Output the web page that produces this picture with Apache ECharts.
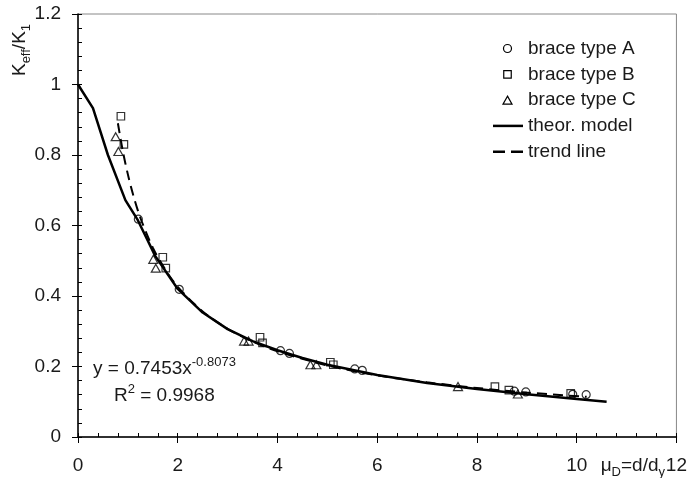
<!DOCTYPE html>
<html>
<head>
<meta charset="utf-8">
<script src="https://cdn.jsdelivr.net/npm/echarts@6/dist/echarts.min.js"></script>
<style>
  html, body { margin: 0; padding: 0; background: #fff; }
  #chart { width: 690px; height: 478px; }
</style>
</head>
<body>
<div id="chart"></div>
<script>
// measured points [mu_D, Keff/K1]
const braceA = [[1.21, 0.618], [2.03, 0.419], [4.06, 0.245], [4.24, 0.237], [5.55, 0.193], [5.70, 0.189],
  [8.75, 0.130], [8.98, 0.128], [9.92, 0.121], [10.19, 0.120]]
const braceB = [[0.86, 0.910], [0.92, 0.830], [1.70, 0.510], [1.76, 0.479], [3.65, 0.283], [3.70, 0.267],
  [5.06, 0.212], [5.12, 0.205], [8.36, 0.143], [8.64, 0.133], [9.88, 0.124]]
const braceC = [[0.755, 0.852], [0.81, 0.810], [1.51, 0.504], [1.56, 0.479], [3.33, 0.272], [3.42, 0.272],
  [4.66, 0.205], [4.78, 0.205], [7.62, 0.143], [8.82, 0.122]]

/** theoretical model curve */
const theorModel = [[0, 1], [0.3, 0.933], [0.6, 0.80], [0.95, 0.672], [1.2, 0.615], [1.55, 0.513], [2, 0.42],
  [2.5, 0.353], [3, 0.306], [3.5, 0.272], [4, 0.246], [4.5, 0.224], [5, 0.205], [6, 0.176], [7, 0.153],
  [8, 0.136], [9, 0.121], [10, 0.108], [10.6, 0.1]]

/** power trend line y = 0.7453x^-0.8073 */
const trendLine = [[0.8, 0.89], [0.9, 0.81], [1, 0.745], [1.1, 0.69], [1.25, 0.622], [1.5, 0.537], [1.75, 0.475],
  [2, 0.426], [2.5, 0.356], [3, 0.307], [3.5, 0.271], [4, 0.243], [5, 0.203], [6, 0.175], [7, 0.155],
  [8, 0.139], [9, 0.126], [10.2, 0.114]]

const legendNames = ['brace type A', 'brace type B', 'brace type C', 'theor. model', 'trend line']

const font = 'Liberation Sans, Arial, sans-serif'
const txt = '#1a1a1a'
const pointStyle = { color: 'rgba(0,0,0,0)', borderColor: '#000', borderWidth: 1.2 }
const trendDash = [10, 6]

function axisPair(min, max, interval, pos, labelMargin) {
  return [
    {
      type: 'value', min, max, interval, position: pos,
      axisLine: { lineStyle: { color: '#000', width: 1.5 } },
      axisTick: { length: 6, lineStyle: { color: '#000' } },
      axisLabel: { fontSize: 19, color: txt, fontFamily: font, margin: labelMargin },
      splitLine: { show: false }
    },
    {
      // inner ticks, same scale
      type: 'value', min, max, interval, position: pos,
      axisLine: { show: false },
      axisTick: { inside: true, length: 4, lineStyle: { color: '#000' } },
      minorTick: { show: true, splitNumber: 5, length: 4, lineStyle: { color: '#000' } },
      axisLabel: { show: false },
      splitLine: { show: false }
    }
  ]
}

// hand-drawn legend (icons need different widths)
function buildLegend() {
  const x0 = 493, cx = 507.5, tx = 528
  const rows = [48.5, 74.3, 100.1, 125.9, 151.7]
  const stroke = { fill: 'none', stroke: '#000', lineWidth: 1.2 }
  const els = [
    { type: 'circle', shape: { cx, cy: rows[0], r: 4 }, style: stroke },
    { type: 'rect', shape: { x: cx - 3.75, y: rows[1] - 3.75, width: 7.5, height: 7.5 }, style: stroke },
    { type: 'polygon', shape: { points: [[cx, rows[2] - 4], [cx + 4.5, rows[2] + 4], [cx - 4.5, rows[2] + 4]] }, style: stroke },
    { type: 'line', shape: { x1: x0, y1: rows[3], x2: x0 + 30, y2: rows[3] }, style: { stroke: '#000', lineWidth: 2.5 } },
    { type: 'line', shape: { x1: x0, y1: rows[4], x2: x0 + 30, y2: rows[4] }, style: { stroke: '#000', lineWidth: 2.5, lineDash: [12, 6] } }
  ]
  legendNames.forEach((name, i) => {
    els.push({
      type: 'text', x: tx, y: rows[i],
      style: { text: name, fontSize: 19, fontFamily: font, fill: txt, align: 'left', verticalAlign: 'middle' }
    })
  })
  return els
}

const chart = echarts.init(document.getElementById('chart'))
chart.setOption({
  animation: false,
  grid: { left: 78, right: 13, top: 14, bottom: 41, show: true, borderColor: '#888', borderWidth: 1 },
  xAxis: axisPair(0, 12, 2, 'bottom', 19),
  yAxis: axisPair(0, 1.2, 0.2, 'left', 17),
  series: [
    { name: legendNames[0], type: 'scatter', data: braceA, symbol: 'circle', symbolSize: 8, itemStyle: pointStyle, z: 4 },
    { name: legendNames[1], type: 'scatter', data: braceB, symbol: 'rect', symbolSize: 7.5, itemStyle: pointStyle, z: 4 },
    { name: legendNames[2], type: 'scatter', data: braceC, symbol: 'triangle', symbolSize: [9, 8], itemStyle: pointStyle, z: 4 },
    {
      name: legendNames[3], type: 'line', data: theorModel, symbol: 'none',
      lineStyle: { color: '#000', width: 2.5 }, itemStyle: { color: '#000' }
    },
    {
      name: legendNames[4], type: 'line', data: trendLine, symbol: 'none', smooth: 0.3,
      lineStyle: { color: '#000', width: 2, type: trendDash }, itemStyle: { color: '#000' }
    }
  ],
  graphic: buildLegend().concat([
    {
      type: 'text', x: 20, y: 50, rotation: Math.PI / 2,
      style: {
        text: '{n|K}{s|eff}{n|/K}{s|1}', align: 'center', verticalAlign: 'middle',
        rich: {
          n: { fontSize: 19, fontFamily: font, fill: txt, lineHeight: 26 },
          s: { fontSize: 13, fontFamily: font, fill: txt, lineHeight: 13, verticalAlign: 'bottom' }
        }
      }
    },
    {
      type: 'text', x: 665, y: 466,
      style: {
        text: '{n|μ}{s|D}{n|=d/d}{s|y}', align: 'right', verticalAlign: 'middle',
        rich: {
          n: { fontSize: 19, fontFamily: font, fill: txt, lineHeight: 26 },
          s: { fontSize: 13, fontFamily: font, fill: txt, lineHeight: 13, verticalAlign: 'bottom' }
        }
      }
    },
    {
      type: 'text', x: 93, y: 369,
      style: {
        text: '{n|y = 0.7453x}{p|-0.8073}', align: 'left', verticalAlign: 'middle',
        rich: {
          n: { fontSize: 19, fontFamily: font, fill: txt, lineHeight: 26 },
          p: { fontSize: 13, fontFamily: font, fill: txt, lineHeight: 13, verticalAlign: 'top' }
        }
      }
    },
    {
      type: 'text', x: 114, y: 396,
      style: {
        text: '{n|R}{p|2}{n| = 0.9968}', align: 'left', verticalAlign: 'middle',
        rich: {
          n: { fontSize: 19, fontFamily: font, fill: txt, lineHeight: 26 },
          p: { fontSize: 13, fontFamily: font, fill: txt, lineHeight: 13, verticalAlign: 'top' }
        }
      }
    }
  ])
})
</script>
</body>
</html>
